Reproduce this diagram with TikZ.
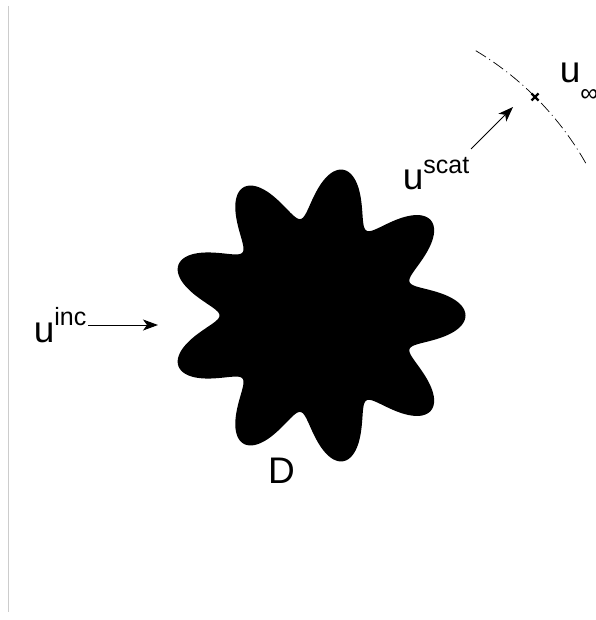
\documentclass[tikz,border=0pt]{standalone}
\usepackage{fontspec}
\setmainfont{Liberation Sans}
\usetikzlibrary{arrows.meta}
\begin{document}
\begin{tikzpicture}[x=1pt,y=-1pt,
  lbl/.style={inner sep=0pt,anchor=base west,font=\fontsize{37}{40}\selectfont},
  ptr/.style={line width=1pt,-{Stealth[length=15pt,width=11pt,inset=4pt]}},
  farfield/.style={line width=0.7pt,dash pattern=on 12pt off 4pt on 1pt off 4pt}]
  % page frame
  \fill[white] (0,0) rectangle (595,620);
  \useasboundingbox (0,0) rectangle (595,620);
  \draw[gray!40,line width=1pt] (8,6) -- (8,612);
  % the obstacle D: nine-lobed star, r = 123 + 25 cos(9t), lobes slightly widened
  \fill[black] plot[domain=0:360,samples=541,smooth,variable=\t]
    ({317.5+(123+25*cos(9*\t))*cos(\t+0.8*sin(9*\t))},
     {315.5-(123+25*cos(9*\t))*sin(\t+0.8*sin(9*\t))}) -- cycle;
  % far-field circle
  \draw[farfield] plot[domain=29.6:59.4,samples=40,variable=\t]
    ({317.5+308.5*cos(\t)},{315.5-308.5*sin(\t)});
  % observation point
  \draw[line width=2.2pt] (531.5,93.5) -- (538.5,100.5) (531.5,100.5) -- (538.5,93.5);
  % labels
  \node[lbl] (inc) at (33.6,342) {u\raisebox{17pt}{\fontsize{25}{28}\selectfont inc}};
  \node[lbl] (scat) at (402.6,190) {u\raisebox{17pt}{\fontsize{25}{28}\selectfont scat}};
  \node[lbl] (far) at (559.6,83) {u\raisebox{-19pt}{\fontsize{25}{28}\selectfont ∞}};
  \node[lbl] (dom) at (268,483) {D};
  % arrows
  \coordinate (incA) at (88,325);
  \coordinate (incB) at (158,325);
  \coordinate (scatA) at (471,149);
  \coordinate (scatB) at (513,107);
  \draw[ptr] (incA) -- (incB);
  \draw[ptr] (scatA) -- (scatB);
\end{tikzpicture}
\end{document}
